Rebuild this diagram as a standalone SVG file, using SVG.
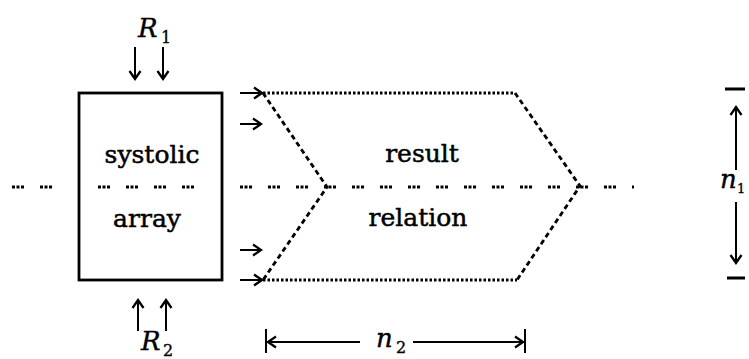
<svg xmlns="http://www.w3.org/2000/svg" width="749" height="359" viewBox="0 0 749 359">
<style>
.lbl{font-family:"DejaVu Serif","Liberation Serif",serif;font-size:25px;fill:#000;stroke:#000;stroke-width:0.5;text-anchor:middle}
.math{font-family:"DejaVu Serif","Liberation Serif",serif;font-style:italic;font-size:26px;fill:#000;stroke:#000;stroke-width:0.4}
.sub{font-family:"DejaVu Serif","Liberation Serif",serif;font-size:16px;fill:#000;stroke:#000;stroke-width:0.3}
.arr{stroke:#000;stroke-width:2;fill:none;marker-end:url(#ah)}
.dots{stroke:#000;stroke-width:2.8;fill:none;stroke-dasharray:2.5 2}
.dash{stroke:#000;stroke-width:2.8;fill:none;stroke-dasharray:5 3.5}
.mid{stroke:#000;stroke-width:3;fill:none;stroke-dasharray:3 1.5 3 1.5 3 16}
.tick{stroke:#000;stroke-width:3;fill:none}
</style>
<defs>
<marker id="ah" markerUnits="userSpaceOnUse" markerWidth="14" markerHeight="14" viewBox="-10 -7 14 14" refX="0" refY="0" orient="auto" overflow="visible">
<path d="M-8,-5.5 L0,0 L-8,5.5" stroke="#000" stroke-width="2.3" fill="none"/>
</marker>
</defs>
<rect width="749" height="359" fill="#fff"/>
<g id="systolic-array">
<rect x="79" y="93" width="143" height="187" fill="none" stroke="#000" stroke-width="2.8"/>
<text class="lbl" x="152" y="163">systolic</text>
<text class="lbl" x="147" y="227">array</text>
</g>
<g id="result-relation">
<path class="dots" d="M263,93 L515,93"/>
<path class="dots" d="M263,280 L517,280"/>
<path class="dash" d="M263,93 L327,187 L263,280"/>
<path class="dash" d="M515,93 L580,186 L517,280"/>
<text class="lbl" x="422" y="162">result</text>
<text class="lbl" x="418" y="226">relation</text>
</g>
<g id="R1">
<text class="math" x="138" y="37">R</text>
<text class="sub" x="161" y="43">1</text>
</g>
<g id="R2">
<text class="math" x="141" y="350">R</text>
<text class="sub" x="163" y="356">2</text>
</g>
<g id="n1">
<path class="tick" d="M725,89 L745,89 M727,278 L745,278"/>
<text class="math" x="720" y="188">n</text>
<text class="sub" x="737" y="193" style="font-size:13px">1</text>
</g>
<g id="n2">
<path class="tick" d="M266,329 L266,353 M525,329 L525,353" style="stroke-width:2"/>
<text class="math" x="376" y="347">n</text>
<text class="sub" x="396" y="353">2</text>
</g>
<g id="connectors">
<path class="mid" d="M12,187 L60,187"/>
<path class="mid" d="M98,187 L202,187"/>
<path class="mid" d="M240,187 L634,187"/>
<path class="arr" d="M135,47 L135,79"/>
<path class="arr" d="M163,47 L163,79"/>
<path class="arr" d="M138,331 L138,300"/>
<path class="arr" d="M166,331 L166,300"/>
<path class="arr" d="M240,93 L262,93"/>
<path class="arr" d="M240,124 L261,124"/>
<path class="arr" d="M240,250 L261,250"/>
<path class="arr" d="M240,280 L262,280"/>
<path class="arr" d="M736,170 L736,107"/>
<path class="arr" d="M736,202 L736,263"/>
<path class="arr" d="M360,342 L268,342"/>
<path class="arr" d="M413,342 L523,342"/>
</g>
</svg>
